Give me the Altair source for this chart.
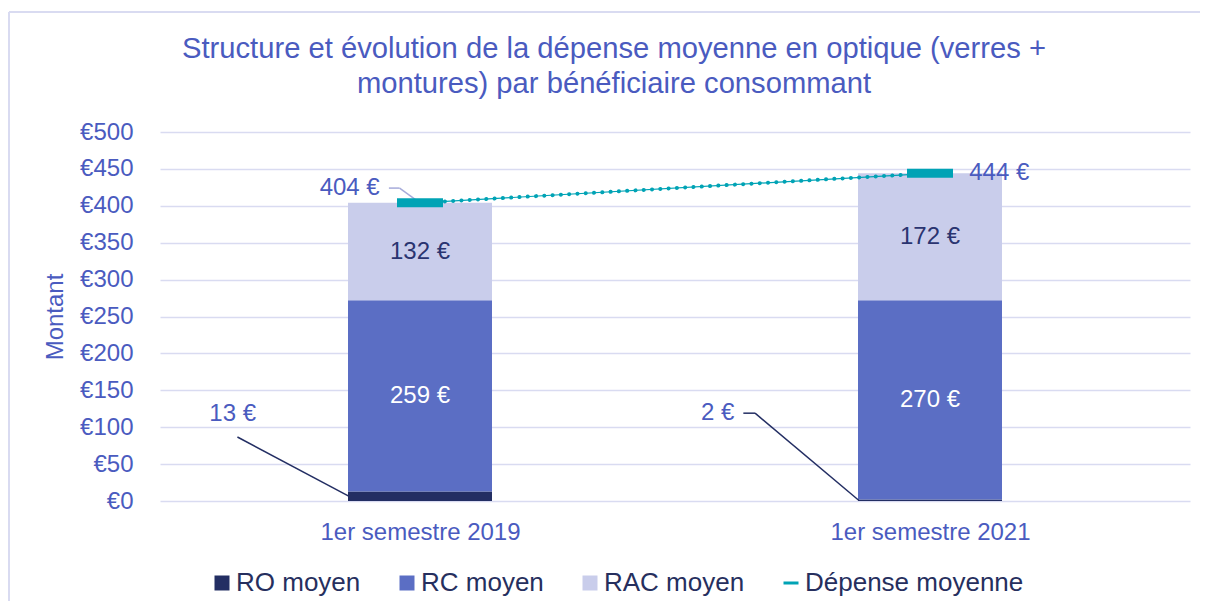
import altair as alt
import pandas as pd

# ---- data ----
categories = ["1er semestre 2019", "1er semestre 2021"]
ro = [13, 2]
rc = [259, 270]
rac = [132, 172]
depense = [404, 444]
series_names = ["RO moyen", "RC moyen", "RAC moyen", "Dépense moyenne"]

title_lines = ["Structure et évolution de la dépense moyenne en optique (verres +",
               "montures) par bénéficiaire consommant"]

FONT = "Liberation Sans, Arial, sans-serif"
C_RO, C_RC, C_RAC, C_DEP = "#232E63", "#5B6EC4", "#C9CDEB", "#00A3B5"
C_TXT = "#4A5BBF"
C_DARK = "#2A3470"
C_GRID = "#D9DBF1"

# positions of categories on a continuous axis (band centres)
xpos = [i + 0.5 for i in range(len(categories))]

rows = []
for i, c in enumerate(categories):
    for k, (name, vals) in enumerate([("RO moyen", ro), ("RC moyen", rc), ("RAC moyen", rac)]):
        rows.append({"cat": c, "x": xpos[i], "series": name, "y": vals[i], "order": k})
bars_df = pd.DataFrame(rows)

# in-bar labels
lab_rows = []
for i in range(len(categories)):
    lab_rows.append({"x": xpos[i], "y": ro[i] + rc[i] / 2, "t": f"{rc[i]} €", "col": "#FFFFFF"})
    lab_rows.append({"x": xpos[i], "y": ro[i] + rc[i] + rac[i] / 2, "t": f"{rac[i]} €", "col": C_DARK})
inlab_df = pd.DataFrame(lab_rows)

dep_df = pd.DataFrame({"x": xpos, "y": depense, "cat": categories})

# callout annotations (offsets from the bar centre in x units; heights in €)
half_bar = 72 / 515
ro_lab_df = pd.DataFrame({
    "x": [xpos[0] - 0.3214, xpos[1] - 0.3835],
    "y": [118, 119],
    "t": [f"{v} €" for v in ro],
})
dep_lab_df = pd.DataFrame({
    "x": [xpos[0] - 0.079, xpos[1] + 0.077],
    "y": [424, depense[1]],
    "t": [f"{v} €" for v in depense],
})
seg_rows = [
    {"x": xpos[0] - 0.358, "y": 86.7, "x2": xpos[0] - half_bar, "y2": ro[0] / 2, "col": C_RO},
    {"x": xpos[1] - 0.366, "y": 119, "x2": xpos[1] - 0.343, "y2": 119, "col": C_RO},
    {"x": xpos[1] - 0.343, "y": 119, "x2": xpos[1] - half_bar, "y2": ro[1] / 2, "col": C_RO},
    {"x": xpos[0] - 0.061, "y": 424, "x2": xpos[0] - 0.040, "y2": 424, "col": "#A6ABDA"},
    {"x": xpos[0] - 0.040, "y": 424, "x2": xpos[0], "y2": depense[0], "col": "#A6ABDA"},
]
seg_df = pd.DataFrame(seg_rows)

# ---- scales / axes ----
xscale = alt.Scale(domain=[0, len(categories)], nice=False, zero=False)
yscale = alt.Scale(domain=[0, 500], nice=False)
label_expr = " : ".join(
    [f"datum.value < {i + 1} ? '{c}'" for i, c in enumerate(categories[:-1])] + [f"'{categories[-1]}'"]
)

x_axis = alt.Axis(values=xpos, labelExpr=label_expr, grid=False, ticks=False, domain=False,
                  title=None, labelFontSize=24, labelColor=C_TXT, labelFont=FONT,
                  labelPadding=19, labelAngle=0, labelLimit=500)
y_axis = alt.Axis(values=list(range(0, 501, 50)), labelExpr="'€' + datum.value",
                  grid=True, gridColor=C_GRID, gridWidth=1.5, ticks=False, domain=False,
                  title="Montant", titleFontSize=24, titleFontWeight="normal", titleColor=C_TXT,
                  titleFont=FONT, titleX=-93, titleY=184.5, labelOverlap=False,
                  labelFontSize=24, labelColor=C_TXT, labelFont=FONT, labelPadding=27)

color_scale = alt.Scale(domain=series_names, range=[C_RO, C_RC, C_RAC, C_DEP])
dash_path = "M-1,-0.2L1,-0.2L1,0.2L-1,0.2Z"
legend = alt.Legend(
    title=None, orient="none", direction="horizontal", legendX=49, legendY=438,
    labelFontSize=26, labelColor="#262F5E", labelFont=FONT, labelOffset=1,
    columnPadding=33, symbolSize=225, padding=0, labelLimit=400,
    symbolType=alt.ExprRef(expr=f"datum.value === '{series_names[3]}' ? '{dash_path}' : 'square'"),
)

X = lambda: alt.X("x:Q", scale=xscale, axis=x_axis)
Y = lambda: alt.Y("y:Q", scale=yscale, axis=y_axis)

# decorative outer frame of the chart (left and top edges are the visible ones)
one = pd.DataFrame({"k": [0]})
frame_top = alt.Chart(one).mark_rule(color=C_GRID, strokeWidth=2).encode(
    x=alt.value(-151), x2=alt.value(1060), y=alt.value(-120))
frame_left = alt.Chart(one).mark_rule(color=C_GRID, strokeWidth=2).encode(
    x=alt.value(-151), y=alt.value(-120), y2=alt.value(600))

# chart title drawn as text above the plot
title = alt.Chart(one).mark_text(
    fontSize=29.2, font=FONT, color=C_TXT, align="center", baseline="alphabetic",
    lineHeight=35).encode(x=alt.value(454), y=alt.value(-74), text=alt.value(title_lines))

bars = alt.Chart(bars_df).mark_bar(size=144).encode(
    x=X(),
    y=alt.Y("y:Q", stack="zero", scale=yscale, axis=y_axis),
    color=alt.Color("series:N", scale=color_scale, legend=legend),
    order=alt.Order("order:Q"),
)

inlabels = alt.Chart(inlab_df).mark_text(fontSize=24, font=FONT, baseline="middle").encode(
    x=X(), y=Y(), text="t:N", color=alt.Color("col:N", scale=None),
)

segs = alt.Chart(seg_df).mark_rule(strokeWidth=1.5).encode(
    x=X(), y=Y(), x2="x2:Q", y2="y2:Q", color=alt.Color("col:N", scale=None),
)

ro_labels = alt.Chart(ro_lab_df).mark_text(fontSize=24, font=FONT, baseline="middle",
                                           align="right", color=C_TXT).encode(
    x=X(), y=Y(), text="t:N")

dep_lab_l = alt.Chart(dep_lab_df.iloc[[0]]).mark_text(fontSize=24, font=FONT, baseline="middle",
                                                      align="right", color=C_TXT).encode(
    x=X(), y=Y(), text="t:N")
dep_lab_r = alt.Chart(dep_lab_df.iloc[[1]]).mark_text(fontSize=24, font=FONT, baseline="middle",
                                                      align="left", color=C_TXT).encode(
    x=X(), y=Y(), text="t:N")

dep_line = alt.Chart(dep_df).mark_line(strokeWidth=1.2, color=C_DEP).encode(x=X(), y=Y())
dep_dots = alt.Chart(dep_df).mark_line(strokeWidth=4, color=C_DEP, strokeDash=[0.1, 8.2],
                                       strokeCap="round").encode(x=X(), y=Y())
dep_ticks = alt.Chart(dep_df).mark_tick(orient="horizontal", size=46, thickness=9,
                                        color=C_DEP, opacity=1).encode(x=X(), y=Y())

chart = alt.layer(
    frame_top, frame_left, bars, inlabels, segs, ro_labels, dep_lab_l, dep_lab_r,
    dep_line, dep_dots, dep_ticks, title,
).properties(
    width=1030, height=369,
    autosize=alt.AutoSizeParams(type="none"),
    padding={"left": 152, "top": 124, "right": 10, "bottom": 100},
    background="white",
).configure_view(strokeWidth=0, stroke="transparent")

chart.save("out.html", embed_options={"renderer": "svg", "actions": False})
